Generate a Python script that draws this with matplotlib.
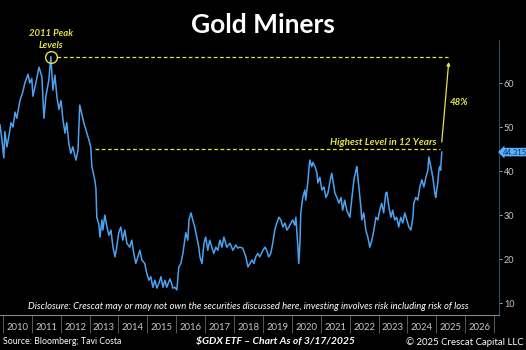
import matplotlib.pyplot as plt
from matplotlib.ticker import FixedLocator, NullFormatter

plt.rcParams['font.family'] = ['Lato', 'DejaVu Sans']

# GDX weekly-ish closes (decimal year, price)
dates = [2009.90, 2009.97, 2010.03, 2010.07, 2010.14, 2010.21, 2010.28, 2010.35, 2010.42, 2010.48,
         2010.59, 2010.69, 2010.76, 2010.87, 2010.93, 2011.00, 2011.04, 2011.14, 2011.25, 2011.35,
         2011.42, 2011.49, 2011.59, 2011.66, 2011.73, 2011.80, 2011.87, 2011.94, 2012.01, 2012.08,
         2012.15, 2012.21, 2012.28, 2012.35, 2012.42, 2012.53, 2012.60, 2012.66, 2012.73, 2012.80,
         2012.91, 2012.98, 2013.04, 2013.08, 2013.18, 2013.22, 2013.25, 2013.32, 2013.36, 2013.43,
         2013.46, 2013.53, 2013.60, 2013.67, 2013.74, 2013.81, 2013.88, 2013.94, 2014.01, 2014.08,
         2014.15, 2014.22, 2014.29, 2014.39, 2014.46, 2014.53, 2014.60, 2014.67, 2014.74, 2014.81,
         2014.91, 2014.98, 2015.05, 2015.12, 2015.19, 2015.26, 2015.33, 2015.40, 2015.47, 2015.54,
         2015.61, 2015.67, 2015.78, 2015.84, 2015.88, 2015.95, 2016.02, 2016.09, 2016.16, 2016.23,
         2016.26, 2016.33, 2016.40, 2016.44, 2016.51, 2016.57, 2016.64, 2016.71, 2016.78, 2016.82,
         2016.89, 2016.96, 2017.02, 2017.09, 2017.16, 2017.23, 2017.30, 2017.37, 2017.44, 2017.51,
         2017.58, 2017.65, 2017.75, 2017.86, 2017.96, 2018.06, 2018.13, 2018.20, 2018.30, 2018.41,
         2018.48, 2018.55, 2018.62, 2018.69, 2018.75, 2018.82, 2018.89, 2019.00, 2019.07, 2019.13,
         2019.20, 2019.27, 2019.34, 2019.41, 2019.48, 2019.55, 2019.62, 2019.69, 2019.76, 2019.83,
         2019.90, 2019.97, 2020.03, 2020.10, 2020.14, 2020.17, 2020.21, 2020.24, 2020.28, 2020.31,
         2020.35, 2020.38, 2020.45, 2020.48, 2020.55, 2020.59, 2020.62, 2020.69, 2020.73, 2020.80,
         2020.87, 2020.90, 2020.97, 2021.04, 2021.11, 2021.18, 2021.25, 2021.31, 2021.38, 2021.42,
         2021.49, 2021.56, 2021.63, 2021.70, 2021.76, 2021.83, 2021.90, 2022.01, 2022.08, 2022.15,
         2022.22, 2022.25, 2022.32, 2022.39, 2022.42, 2022.49, 2022.56, 2022.63, 2022.70, 2022.77,
         2022.84, 2022.91, 2022.98, 2023.04, 2023.11, 2023.18, 2023.25, 2023.29, 2023.36, 2023.43,
         2023.49, 2023.56, 2023.63, 2023.70, 2023.77, 2023.84, 2023.91, 2023.98, 2024.05, 2024.12,
         2024.19, 2024.22, 2024.29, 2024.36, 2024.43, 2024.50, 2024.57, 2024.64, 2024.71, 2024.74,
         2024.81, 2024.88, 2024.95, 2024.98, 2025.05, 2025.09, 2025.12, 2025.15, 2025.19]
gdx = [50.5, 47.0, 43.0, 49.0, 45.5, 48.0, 51.0, 50.0, 53.4, 52.0,
       56.0, 58.0, 60.0, 62.0, 60.0, 61.0, 57.0, 60.0, 63.6, 61.4,
       52.0, 57.0, 60.7, 66.0, 58.4, 61.8, 56.8, 54.0, 56.0, 51.6,
       48.6, 51.0, 46.4, 44.0, 45.5, 42.5, 44.8, 55.0, 53.0, 51.0,
       48.6, 47.0, 45.5, 41.0, 38.0, 36.0, 29.5, 28.0, 25.0, 28.9,
       26.6, 30.0, 27.3, 25.4, 26.6, 22.7, 20.5, 22.7, 26.0, 27.3,
       24.3, 26.6, 23.6, 22.7, 24.3, 21.3, 19.0, 20.5, 22.0, 19.8,
       19.0, 16.8, 15.2, 16.0, 13.6, 15.2, 13.4, 14.5, 16.0, 13.6,
       15.2, 13.6, 15.5, 14.5, 13.4, 13.6, 13.0, 18.2, 19.0, 21.3,
       22.7, 26.0, 24.3, 28.9, 30.5, 28.9, 27.3, 25.0, 22.7, 20.5,
       19.0, 23.6, 25.0, 22.0, 24.3, 22.7, 21.3, 22.7, 22.0, 24.3,
       22.7, 25.0, 22.7, 23.6, 22.0, 23.2, 22.5, 22.7, 22.5, 20.5,
       18.2, 19.0, 19.8, 19.0, 20.5, 21.3, 20.5, 22.0, 22.7, 22.0,
       20.5, 21.3, 23.6, 26.6, 28.2, 29.5, 28.9, 27.3, 28.2, 26.6,
       27.3, 28.2, 28.9, 27.7, 29.5, 26.6, 22.7, 19.0, 23.6, 30.5,
       32.7, 34.0, 35.7, 33.4, 37.3, 40.2, 42.5, 41.0, 42.0, 41.0,
       39.5, 37.3, 38.6, 35.7, 36.4, 34.0, 35.0, 37.3, 39.5, 38.0,
       35.0, 34.0, 32.7, 34.0, 31.1, 33.4, 31.1, 29.5, 34.0, 38.0,
       40.2, 41.0, 36.4, 31.8, 28.9, 30.5, 26.6, 25.0, 22.7, 24.3,
       26.6, 29.5, 28.9, 31.1, 32.7, 30.5, 35.0, 35.2, 31.8, 29.5,
       31.1, 28.9, 29.5, 27.3, 29.5, 28.2, 30.5, 28.9, 27.3, 26.6,
       29.5, 32.7, 34.0, 33.4, 36.4, 38.0, 36.4, 38.6, 40.2, 43.2,
       41.0, 38.6, 35.0, 34.0, 37.3, 40.2, 41.0, 40.2, 44.315]

years = list(range(2010, 2027))
price_ticks = [10, 20, 30, 40, 50, 60]
peak_level = 66.0
breakout_level = 45.0
upside_label = "48%"

yellow = '#e3e34a'
blue = '#4aa3f0'
grey = '#c8c8c8'

fig = plt.figure(figsize=(5.26, 3.5), dpi=100, facecolor='black')
ax = fig.add_axes([0.0, 0.10, 499 / 526, 0.786])
ax.set_facecolor('black')

ax.plot(dates, gdx, color=blue, lw=1.1, solid_joinstyle='round')

ax.set_xlim(2009.9, 2027.17)
ax.set_ylim(7.3, 69.8)

# reference levels
ax.hlines(peak_level, 2011.87, 2025.40, colors=yellow, linestyles=(0, (3, 2)), lw=0.9)
ax.hlines(breakout_level, 2013.18, 2025.12, colors=yellow, linestyles=(0, (3, 2)), lw=0.9)
ax.plot([2011.66], [peak_level], 'o', ms=8.5, mfc='none', mec=yellow, mew=1.0)

ax.annotate('', xy=(2025.43, 64.8), xytext=(2025.19, 46.6),
            arrowprops=dict(arrowstyle='-|>', color=yellow, lw=0.9,
                            mutation_scale=5, shrinkA=0, shrinkB=0))
ax.text(2025.78, 55.5, upside_label, color=yellow, fontsize=7, fontweight='bold',
        style='italic', ha='center', va='center')
ax.text(2025.02, 46.6, 'Highest Level in 12 Years', color=yellow, fontsize=7.2,
        fontweight='bold', style='italic', ha='right', va='center')
ax.text(2011.66, 69.9, '2011 Peak\nLevels', color=yellow, fontsize=6.8,
        fontweight='bold', style='italic', ha='center', va='center',
        linespacing=1.5, clip_on=False)

ax.text(0.497, 0.03, 'Disclosure: Crescat may or may not own the securities discussed here, '
        'investing involves risk including risk of loss', transform=ax.transAxes,
        color='white', fontsize=6.8, style='italic', ha='center', va='center')

# right price axis
for side in ('left', 'top'):
    ax.spines[side].set_visible(False)
ax.spines['right'].set_color('#2f4a66')
ax.spines['bottom'].set_color('#888888')
ax.spines['bottom'].set_linewidth(0.8)
ax.yaxis.tick_right()
ax.set_yticks(price_ticks)
ax.tick_params(axis='y', colors=grey, labelsize=6.5, length=2, width=0.6, pad=1.5)

# year separators with labels centred between them
ax.xaxis.set_major_locator(FixedLocator(years + [2027]))
ax.xaxis.set_major_formatter(NullFormatter())
ax.xaxis.set_minor_locator(FixedLocator([y + 0.5 for y in years]))
ax.set_xticklabels([str(y) for y in years], minor=True)
ax.tick_params(axis='x', which='major', direction='out', length=13, width=0.6, color='#666666')
ax.tick_params(axis='x', which='minor', length=0, pad=6, labelsize=6.8, labelcolor=grey)

# last price tag
ax.annotate(f'{gdx[-1]:.3f}', xy=(1.0, gdx[-1]), xycoords=('axes fraction', 'data'),
            xytext=(2.5, 0), textcoords='offset points', fontsize=5.6, color='#0b2f55',
            ha='left', va='center', annotation_clip=False,
            bbox=dict(boxstyle='larrow,pad=0.1', fc='#5ab0ff', ec='none'))

fig.text(0.5, 0.928, 'Gold Miners', color='white', fontsize=19, fontweight='bold',
         ha='center', va='center')
fig.text(0.006, 0.023, 'Source: Bloomberg; Tavi Costa', color='white', fontsize=6.3,
         ha='left', va='center')
fig.text(0.523, 0.023, '\\$GDX ETF \u2013 Chart As of 3/17/2025', color='white', fontsize=7.5,
         fontweight='bold', style='italic', ha='center', va='center')
fig.text(0.995, 0.023, '\u00a9 2025 Crescat Capital LLC', color='white', fontsize=6.9,
         ha='right', va='center')

fig.savefig('out.png', dpi=100, facecolor='black')
